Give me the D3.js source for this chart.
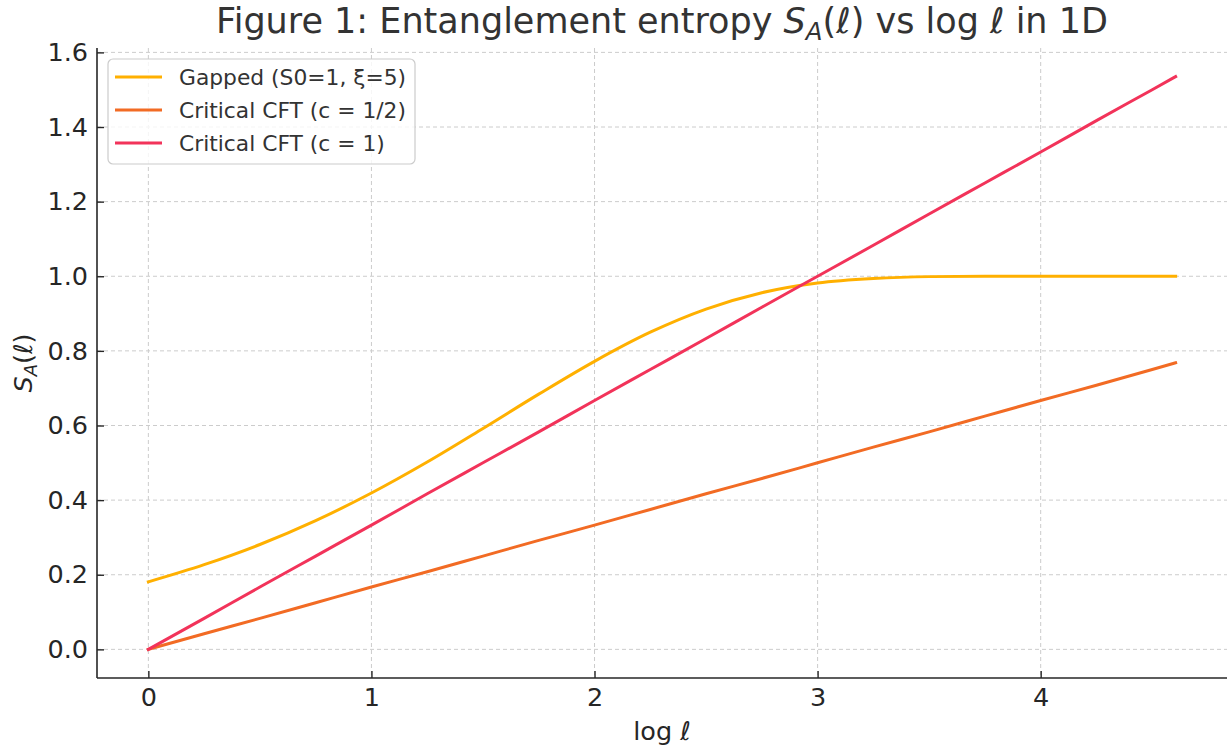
<!DOCTYPE html>
<html>
<head>
<meta charset="utf-8">
<script src="https://cdn.jsdelivr.net/npm/d3@7"></script>
<style>
  html, body { margin: 0; padding: 0; background: #fff; }
  svg { display: block; font-family: "DejaVu Sans", sans-serif; }
</style>
</head>
<body>
<svg id="chart" width="1231" height="751"></svg>
<script>
// log ℓ sample positions
const logL = [0, 0.25, 0.5, 0.75, 1, 1.25, 1.5, 1.75, 2, 2.25, 2.5, 2.75, 3, 3.25, 3.5, 3.75, 4, 4.25, 4.5, 4.605];
// gapped chain: saturates at S0 = 1
const gapped = [0.181, 0.227, 0.281, 0.345, 0.419, 0.502, 0.592, 0.684, 0.772, 0.850, 0.912, 0.956, 0.982, 0.994, 0.999, 1.000, 1.000, 1.000, 1.000, 1.000];
// critical chains: grow linearly in log ℓ
const cftHalf = [0, 0.042, 0.083, 0.125, 0.167, 0.208, 0.250, 0.292, 0.333, 0.375, 0.417, 0.458, 0.500, 0.542, 0.583, 0.625, 0.667, 0.708, 0.750, 0.768];
const cftOne = [0, 0.083, 0.167, 0.250, 0.333, 0.417, 0.500, 0.583, 0.667, 0.750, 0.833, 0.917, 1.000, 1.083, 1.167, 1.250, 1.333, 1.417, 1.500, 1.535];

const seriesNames = ["Gapped (S0=1, \u03BE=5)", "Critical CFT (c = 1/2)", "Critical CFT (c = 1)"];
const seriesColors = ["#FFB000", "#F26B24", "#F2335A"];
const xTicks = [0, 1, 2, 3, 4];
const yTicks = [0.0, 0.2, 0.4, 0.6, 0.8, 1.0, 1.2, 1.4, 1.6];

const series = [gapped, cftHalf, cftOne].map((vals, i) => ({
  name: seriesNames[i],
  color: seriesColors[i],
  points: logL.map((x, j) => ({ x, y: vals[j] }))
}));

const svg = d3.select("#chart");
const plotL = 97, plotR = 1227, plotT = 48, plotB = 678;
const tickFont = "25.5px";

// 5% padding around the data range on both axes
const xmin = 0, xmax = d3.max(logL);
const ymin = 0, ymax = d3.max(series, s => d3.max(s.points, p => p.y));
const xpad = (xmax - xmin) * 0.05, ypad = (ymax - ymin) * 0.05;

const x = d3.scaleLinear().domain([xmin - xpad, xmax + xpad]).range([plotL, plotR]);
const y = d3.scaleLinear().domain([ymin - ypad, ymax + ypad]).range([plotB, plotT]);

// grid
const grid = svg.append("g").attr("stroke", "#cccccc").attr("stroke-width", 1).attr("stroke-dasharray", "4,3");
grid.selectAll("line.vx").data(xTicks).join("line")
  .attr("x1", d => x(d)).attr("x2", d => x(d)).attr("y1", plotT).attr("y2", plotB);
grid.selectAll("line.hy").data(yTicks).join("line")
  .attr("y1", d => y(d)).attr("y2", d => y(d)).attr("x1", plotL).attr("x2", plotR);

// lines
const line = d3.line().x(d => x(d.x)).y(d => y(d.y)).curve(d3.curveMonotoneX);
svg.append("g").selectAll("path").data(series).join("path")
  .attr("d", d => line(d.points))
  .attr("fill", "none")
  .attr("stroke", d => d.color)
  .attr("stroke-width", 3)
  .attr("stroke-linecap", "square");

// axes, ticks pointing inward
const xAxis = svg.append("g").attr("transform", `translate(0,${plotB})`)
  .call(d3.axisBottom(x).tickValues(xTicks).tickFormat(d3.format("d")).tickSize(-7).tickPadding(9.5));
const yAxis = svg.append("g").attr("transform", `translate(${plotL},0)`)
  .call(d3.axisLeft(y).tickValues(yTicks).tickFormat(d3.format(".1f")).tickSize(-7).tickPadding(9));
[xAxis, yAxis].forEach(a => {
  a.select(".domain").attr("stroke", "#262626").attr("stroke-width", 1.6);
  a.selectAll(".tick line").attr("stroke", "#262626").attr("stroke-width", 1.4);
  a.selectAll(".tick text").attr("fill", "#262626").style("font-size", tickFont).style("font-family", "DejaVu Sans");
});
// keep the axis line spanning the full plot area
xAxis.select(".domain").attr("d", `M${plotL},0H${plotR}`);
yAxis.select(".domain").attr("d", `M0,${plotB}V${plotT}`);

// title
const title = svg.append("text")
  .attr("x", (plotL + plotR) / 2).attr("y", 33)
  .attr("text-anchor", "middle")
  .attr("fill", "#333333")
  .style("font-size", "35px");
title.append("tspan").text("Figure 1: Entanglement entropy ");
title.append("tspan").attr("font-style", "italic").text("S");
title.append("tspan").attr("font-style", "italic").attr("font-size", "24.5px").attr("dy", 7).text("A");
title.append("tspan").attr("dy", -7).text("(");
title.append("tspan").attr("font-style", "italic").text("\u2113");
title.append("tspan").text(") vs log ");
title.append("tspan").attr("font-style", "italic").text("\u2113");
title.append("tspan").text(" in 1D");

// x label
const xl = svg.append("text")
  .attr("x", (plotL + plotR) / 2).attr("y", 740)
  .attr("text-anchor", "middle").attr("fill", "#262626")
  .style("font-size", tickFont);
xl.append("tspan").text("log ");
xl.append("tspan").attr("font-style", "italic").text("\u2113");

// y label
const yl = svg.append("text")
  .attr("transform", `translate(32,${(plotT + plotB) / 2}) rotate(-90)`)
  .attr("text-anchor", "middle").attr("fill", "#262626")
  .style("font-size", tickFont);
yl.append("tspan").attr("font-style", "italic").text("S");
yl.append("tspan").attr("font-style", "italic").attr("font-size", "18px").attr("dy", 5).text("A");
yl.append("tspan").attr("dy", -5).text("(");
yl.append("tspan").attr("font-style", "italic").text("\u2113");
yl.append("tspan").text(")");

// legend
const lg = svg.append("g").attr("transform", "translate(108,59)");
lg.append("rect").attr("width", 307).attr("height", 105).attr("rx", 5)
  .attr("fill", "#ffffff").attr("fill-opacity", 0.8)
  .attr("stroke", "#cccccc").attr("stroke-width", 1.2);
const items = lg.selectAll("g.item").data(series).join("g")
  .attr("transform", (d, i) => `translate(0,${18 + i * 33})`);
items.append("line").attr("x1", 7).attr("x2", 54).attr("y1", 0).attr("y2", 0)
  .attr("stroke", d => d.color).attr("stroke-width", 3);
items.append("text").attr("x", 71).attr("y", 0).attr("dy", "0.35em")
  .attr("fill", "#333333").style("font-size", "21.8px")
  .text(d => d.name);
</script>
</body>
</html>
